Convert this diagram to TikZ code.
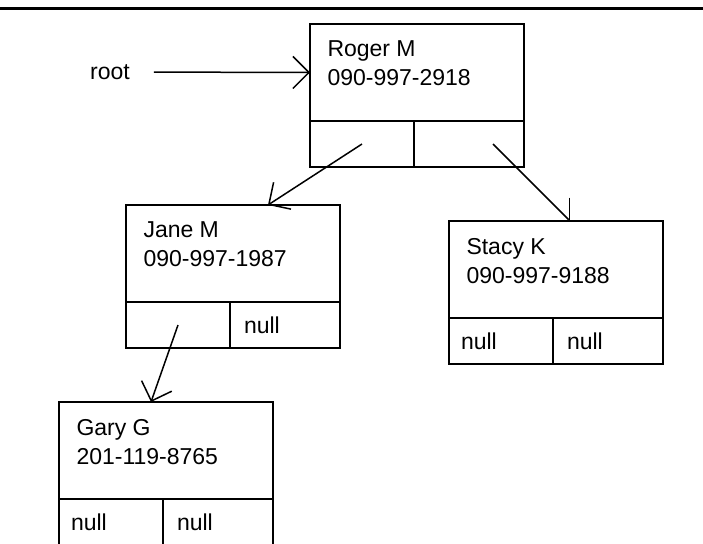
\documentclass[tikz,border=0pt]{standalone}
\usepackage{fontspec}
\setmainfont{Liberation Sans}
\usepackage{tikz}
\usetikzlibrary{arrows.meta}

\begin{document}
\begin{tikzpicture}[x=0.5pt, y=-0.5pt,
			>={Straight Barb[length=8pt,width=16pt]},   %Pfeilspitzen
			font=\fontsize{11.5}{14.5}\selectfont,
			datenfeld/.style={draw, line width=1pt, minimum width=107pt, minimum height=48.5pt, inner sep=0pt, outer sep=0pt, anchor=north west},
			zeigerL/.style={draw, line width=1pt, minimum height=23pt, inner ysep=0pt, inner xsep=6pt, outer sep=0pt, text width=40pt, align=left, anchor=north west},
			zeigerR/.style={zeigerL, inner xsep=7pt, text width=41pt},
			eintrag/.style={anchor=north west, inner sep=0pt, outer sep=0pt, align=left},
			zeiger/.style={->, line width=0.75pt}]
			%Bildbereich
			\useasboundingbox (0,0) rectangle (703,543);
			\clip (0,0) rectangle (703,543);
			\draw[line width=1.5pt] (0,8) -- (703,8);
			% Knoten zeichnen
			\foreach \k/\px/\py/\name/\nummer/\links/\rechts in {
				roger/310/24/Roger M/090-997-2918//,
				jane/126/205/Jane M/090-997-1987//null,
				stacy/449/221/Stacy K/090-997-9188/null/null,
				gary/59/402/Gary G/201-119-8765/null/null}
			{
				\node[datenfeld] (\k) at (\px,\py) {};
				\node[eintrag] (\k T) at ([shift={(8.75pt,-8.5pt)}]\k.north west) {\name\\\nummer};
				\node[zeigerL] (\k L) at (\k.south west) {\links};
				\node[zeigerR] (\k R) at (\k L.north east) {\rechts};
			}
			% Zeiger zeichnen
			\node (root) at (110,72) {root};
			\draw[zeiger, shorten <=8.5pt] (root.east) -- (roger.west);
			\draw[zeiger] (rogerL.center) -- ([xshift=17.5pt]jane.north);
			\draw[zeiger] ([xshift=12pt]rogerR.center) -- ([xshift=7pt]stacy.north);
			\draw[zeiger] (janeL.center) -- ([xshift=-7.5pt]gary.north);
		\end{tikzpicture}
\end{document}
